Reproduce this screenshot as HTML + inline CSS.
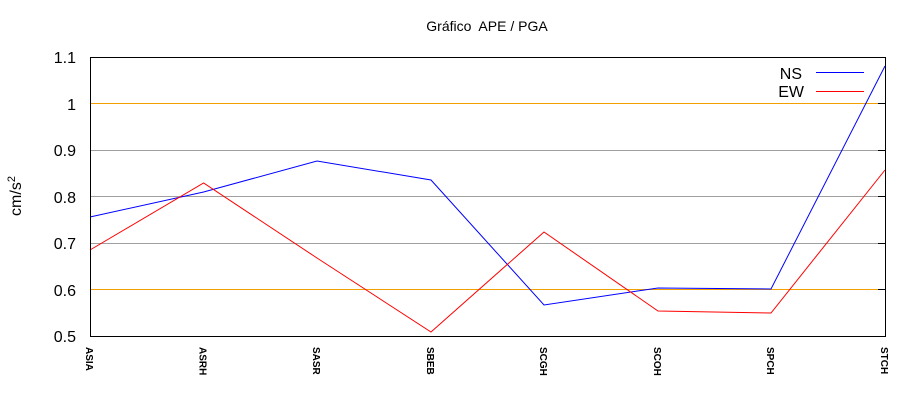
<!DOCTYPE html>
<html><head><style>body{margin:0;background:#fff}svg{display:block}text{font-family:"Liberation Sans",sans-serif}</style></head>
<body>
<svg width="920" height="400" xmlns="http://www.w3.org/2000/svg">
<rect width="920" height="400" fill="#fff"/>
<text x="487" y="31" font-size="14" text-anchor="middle">Gráfico&#160; APE / PGA</text>
<rect x="90" y="150" width="795" height="1" fill="#a0a0a0"/>
<rect x="90" y="196" width="795" height="1" fill="#a0a0a0"/>
<rect x="90" y="243" width="795" height="1" fill="#a0a0a0"/>
<rect x="90" y="103" width="795" height="1" fill="#f0a000"/>
<rect x="90" y="289" width="795" height="1" fill="#f0a000"/>
<g font-size="16" text-anchor="end" fill="#000">
<text x="76" y="63">1.1</text><text x="76" y="110">1</text><text x="76" y="156">0.9</text>
<text x="76" y="203">0.8</text><text x="76" y="249">0.7</text><text x="76" y="296">0.6</text><text x="76" y="342">0.5</text>
</g>
<text transform="translate(21,196) rotate(-90)" font-size="16" text-anchor="middle">cm/s<tspan dy="-6" font-size="11">2</tspan></text>
<g font-size="10" font-weight="bold">
<text transform="translate(86,347) rotate(90)">ASIA</text>
<text transform="translate(199.6,347) rotate(90)">ASRH</text>
<text transform="translate(313,347) rotate(90)">SASR</text>
<text transform="translate(427,347) rotate(90)">SBEB</text>
<text transform="translate(540,347) rotate(90)">SCGH</text>
<text transform="translate(654,347) rotate(90)">SCOH</text>
<text transform="translate(767,347) rotate(90)">SPCH</text>
<text transform="translate(881,347) rotate(90)">STCH</text>
</g>
<polyline fill="none" stroke="#0000ff" stroke-width="1" points="90,217 203.6,192 317,161 431,180 544,305 658,288 771,289 885,66"/>
<polyline fill="none" stroke="#ff0000" stroke-width="1" points="90,250 203.6,183 317,258 431,332 544,232 658,311 771,313 885,170"/>
<rect x="90.5" y="57.5" width="795" height="279" fill="none" stroke="#000" stroke-width="1" shape-rendering="crispEdges"/>
<g fill="#000"><rect x="878" y="103" width="7" height="1"/><rect x="878" y="150" width="7" height="1"/><rect x="878" y="196" width="7" height="1"/><rect x="878" y="243" width="7" height="1"/><rect x="878" y="289" width="7" height="1"/></g>
<text x="802" y="79" font-size="16" text-anchor="end">NS</text>
<text x="804" y="97" font-size="16" text-anchor="end">EW</text>
<line x1="816" y1="72.5" x2="864" y2="72.5" stroke="#0000ff"/>
<line x1="816" y1="91.5" x2="864" y2="91.5" stroke="#ff0000"/>
</svg>
</body></html>
